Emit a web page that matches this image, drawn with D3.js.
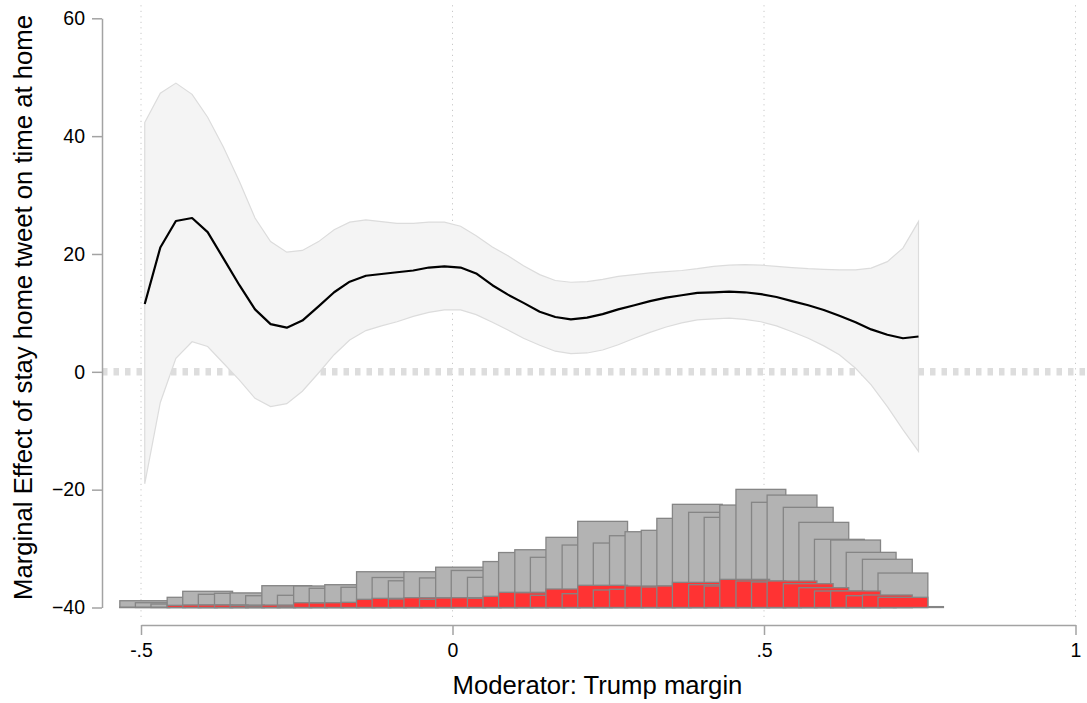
<!DOCTYPE html>
<html>
<head>
<meta charset="utf-8">
<script src="https://cdn.jsdelivr.net/npm/d3@7"></script>
<style>
  body { margin: 0; background: #fff; }
  text { font-family: "Liberation Sans", Arial, Helvetica, sans-serif; fill: #000; }
</style>
</head>
<body>
<svg width="1087" height="703"></svg>
<script>
// evaluation points of the moderator (Trump margin)
const moderator = [
  -0.494, -0.469, -0.444, -0.418, -0.393, -0.368, -0.342, -0.317, -0.292, -0.266,
  -0.241, -0.215, -0.190, -0.165, -0.139, -0.114, -0.089, -0.063, -0.038, -0.013,
  0.013, 0.038, 0.064, 0.089, 0.114, 0.140, 0.165, 0.190, 0.216, 0.241,
  0.266, 0.292, 0.317, 0.343, 0.368, 0.393, 0.419, 0.444, 0.469, 0.495,
  0.520, 0.545, 0.571, 0.596, 0.621, 0.647, 0.672, 0.698, 0.723, 0.748
];

// marginal effect and its confidence band
const effect = [
  11.5, 21.1, 25.6, 26.1, 23.7, 19.3, 14.7, 10.6, 8.1, 7.5,
  8.7, 11.1, 13.5, 15.3, 16.3, 16.6, 16.9, 17.2, 17.7, 17.9,
  17.7, 16.7, 14.7, 13.1, 11.7, 10.2, 9.3, 8.9, 9.2, 9.8,
  10.6, 11.3, 12.0, 12.6, 13.0, 13.4, 13.5, 13.6, 13.5, 13.2,
  12.7, 12.0, 11.3, 10.5, 9.5, 8.4, 7.2, 6.3, 5.7, 6.0
];
const ciUpper = [
  42.3, 47.3, 49.0, 47.1, 43.2, 38.2, 32.3, 26.1, 22.1, 20.3,
  20.6, 22.1, 24.1, 25.4, 25.8, 25.5, 25.2, 25.2, 25.4, 25.4,
  24.7, 23.1, 21.2, 19.7, 18.0, 16.5, 15.5, 15.2, 15.3, 15.7,
  16.2, 16.5, 16.8, 17.0, 17.2, 17.5, 17.9, 18.1, 18.2, 18.1,
  17.9, 17.7, 17.5, 17.4, 17.3, 17.3, 17.6, 18.7, 21.0, 25.5
];
const ciLower = [
  -19.0, -5.2, 2.3, 5.1, 4.3, 1.5, -1.4, -4.5, -5.9, -5.4,
  -3.3, -0.2, 2.9, 5.4, 7.0, 7.8, 8.5, 9.4, 10.1, 10.5,
  10.5, 9.7, 8.4, 7.1, 5.7, 4.5, 3.5, 3.1, 3.2, 3.7,
  4.6, 5.7, 6.7, 7.6, 8.3, 8.8, 9.0, 9.1, 8.9, 8.5,
  7.8, 6.8, 5.7, 4.4, 2.9, 0.6, -2.2, -5.9, -9.8, -13.5
];

// histogram heights above the -40 baseline (y-axis units)
const histAll = [
  1.15, 0.81, 0.59, 1.73, 2.75, 2.24, 2.41, 2.46, 2.0, 3.70,
  2.07, 3.65, 3.26, 3.87, 3.43, 6.07, 5.09, 4.53, 6.07, 5.02,
  6.84, 6.28, 5.12, 7.80, 9.33, 9.80, 8.52, 11.91, 10.60, 14.62,
  10.94, 12.18, 12.86, 13.10, 15.13, 17.51, 16.15, 15.30, 17.39, 20.05,
  17.85, 19.08, 17.00, 14.45, 11.57, 11.45, 9.36, 8.18, 5.85, 0.15
];
const histTreated = [
  0.05, 0, 0, 0.37, 0.42, 0.42, 0.42, 0.31, 0.25, 0.42,
  0.25, 0.81, 0.76, 0.81, 0.88, 1.39, 1.56, 1.44, 1.66, 1.39,
  1.61, 1.66, 1.56, 1.90, 2.58, 2.51, 2.07, 3.14, 2.34, 3.77,
  2.97, 3.09, 3.65, 3.48, 3.65, 4.27, 3.87, 3.65, 4.78, 4.50,
  4.33, 4.50, 4.04, 3.36, 2.80, 2.80, 2.00, 2.12, 1.73, 0
];
const histBase = -40;
const binWidth = 0.08;

const xTicks = [-0.5, 0, 0.5, 1];
const xTickLabels = ["-.5", "0", ".5", "1"];
const yTicks = [-40, -20, 0, 20, 40, 60];
const xTitle = "Moderator: Trump margin";
const yTitle = "Marginal Effect of stay home tweet on time at home";

const svg = d3.select("svg"),
  W = +svg.attr("width"),
  x = d3.scaleLinear().domain([-0.5, 1]).range([141, 1075.5]),
  y = d3.scaleLinear().domain([-40, 60]).range([607.5, 18.3]),
  axisX = 102,
  axisY = 625;

// dotted vertical grid
svg.append("g")
  .selectAll("line")
  .data(xTicks)
  .enter()
  .append("line")
  .attr("x1", (d) => x(d))
  .attr("x2", (d) => x(d))
  .attr("y1", y(62.2))
  .attr("y2", y(-41.8))
  .attr("stroke", "#bdbdbd")
  .attr("stroke-width", 1)
  .attr("stroke-dasharray", "1 4.5");

// reference line at zero
svg.append("line")
  .attr("x1", axisX)
  .attr("x2", W)
  .attr("y1", y(0))
  .attr("y2", y(0))
  .attr("stroke", "#dddddd")
  .attr("stroke-width", 7.5)
  .attr("stroke-dasharray", "5.5 6");

const idx = d3.range(moderator.length);

// confidence band
svg.append("path")
  .datum(idx)
  .attr("fill", "#f4f4f4")
  .attr("stroke", "#dcdcdc")
  .attr("stroke-width", 1.2)
  .attr("d", d3.area()
    .x((i) => x(moderator[i]))
    .y0((i) => y(ciLower[i]))
    .y1((i) => y(ciUpper[i])));

// marginal effect
svg.append("path")
  .datum(idx)
  .attr("fill", "none")
  .attr("stroke", "#000")
  .attr("stroke-width", 2.2)
  .attr("stroke-linejoin", "round")
  .attr("d", d3.line()
    .x((i) => x(moderator[i]))
    .y((i) => y(effect[i])));

// histograms: all units first, treated units on top
function drawHist(values, fill) {
  svg.append("g")
    .selectAll("rect")
    .data(idx)
    .enter()
    .append("rect")
    .attr("x", (i) => x(moderator[i] - binWidth / 2))
    .attr("width", (i) => x(moderator[i] + binWidth / 2) - x(moderator[i] - binWidth / 2))
    .attr("y", (i) => y(histBase + values[i]))
    .attr("height", (i) => y(histBase) - y(histBase + values[i]))
    .attr("fill", fill)
    .attr("stroke", "#858585")
    .attr("stroke-width", 1.3);
}
drawHist(histAll, "#b3b3b3");
drawHist(histTreated, "#ff3333");

// axes
const gx = svg.append("g")
  .attr("transform", `translate(0,${axisY})`)
  .call(d3.axisBottom(x)
    .tickValues(xTicks)
    .tickFormat((d, i) => xTickLabels[i])
    .tickSize(10)
    .tickSizeOuter(0)
    .tickPadding(8.5));

const gy = svg.append("g")
  .attr("transform", `translate(${axisX},0)`)
  .call(d3.axisLeft(y)
    .tickValues(yTicks)
    .tickSize(10)
    .tickSizeOuter(0)
    .tickPadding(7));

[gx, gy].forEach((g) => {
  g.select(".domain").attr("stroke", "#a3a3a3").attr("stroke-width", 1.5);
  g.selectAll(".tick line").attr("stroke", "#a3a3a3").attr("stroke-width", 1.5);
  g.selectAll(".tick text")
    .attr("fill", "#000")
    .style("font-size", "19.5px")
    .style("font-family", '"Liberation Sans", Arial, Helvetica, sans-serif');
});

svg.append("text")
  .attr("x", 597.5)
  .attr("y", 694.3)
  .attr("text-anchor", "middle")
  .style("font-size", "25.7px")
  .text(xTitle);

svg.append("text")
  .attr("transform", "translate(32.3,307.5) rotate(-90)")
  .attr("text-anchor", "middle")
  .style("font-size", "25.7px")
  .text(yTitle);
</script>
</body>
</html>
